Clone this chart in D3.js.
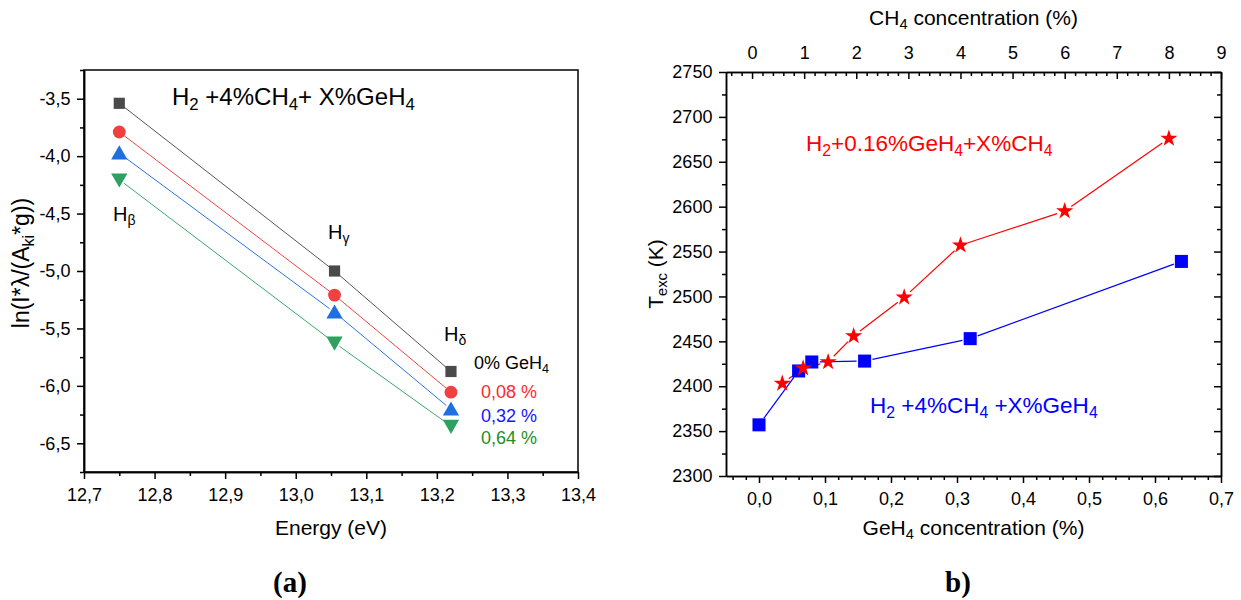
<!DOCTYPE html>
<html><head><meta charset="utf-8">
<script src="https://cdn.jsdelivr.net/npm/d3@7"></script>
<style>
body{margin:0;background:#fff;}
svg{display:block;font-family:Arial,"Liberation Sans",sans-serif;}
</style></head>
<body><svg id="chart" width="1241" height="600"></svg>
<script>
// ---------- DATA (panel a) ----------
const energy = [12.75, 13.055, 13.22];
const lnGe0   = [-3.54, -5.00, -5.875];
const lnGe008 = [-3.79, -5.21, -6.055];
const lnGe032 = [-3.975, -5.36, -6.205];
const lnGe064 = [-4.205, -5.625, -6.35];
const energyTicks = [12.7, 12.8, 12.9, 13.0, 13.1, 13.2, 13.3, 13.4];
const lnTicks = [-6.5, -6.0, -5.5, -5.0, -4.5, -4.0, -3.5];
const lineNames = ["H_{β}", "H_{γ}", "H_{δ}"];
const seriesLabels = ["0% GeH_{4}", "0,08 %", "0,32 %", "0,64 %"];

// ---------- DATA (panel b) ----------
const geh4Conc = [0, 0.06, 0.08, 0.16, 0.32, 0.64];
const texcGeH4 = [2357, 2417, 2427, 2428, 2453, 2539];
const ch4Conc  = [0.58, 0.98, 1.46, 1.95, 2.92, 4.0, 6.0, 8.0];
const texcCH4  = [2403, 2420, 2427, 2456, 2499, 2557, 2595, 2676];
const geh4Ticks = [0, 0.1, 0.2, 0.3, 0.4, 0.5, 0.6, 0.7];
const ch4Ticks = [0, 1, 2, 3, 4, 5, 6, 7, 8, 9];
const texcTicks = [2300, 2350, 2400, 2450, 2500, 2550, 2600, 2650, 2700, 2750];

const svg = d3.select("#chart");
const FONT = "Arial,'Liberation Sans',sans-serif";
const comma1 = d => d3.format(".1f")(d).replace(".", ",").replace("−", "-");

// rich text helper: "_{...}" subscript
function rich(sel, str) {
  const parts = str.split(/(_\{[^}]*\})/).filter(s => s.length);
  let reset = false;
  parts.forEach(p => {
    if (p.startsWith("_{")) {
      sel.append("tspan").attr("dy", "0.3em").attr("font-size", "0.7em").text(p.slice(2, -1));
      reset = true;
    } else {
      const t = sel.append("tspan").text(p);
      if (reset) { t.attr("dy", "-0.21em"); reset = false; }
    }
  });
  return sel;
}

function segs(g, pts, color, gap, width) {
  for (let i = 0; i < pts.length - 1; i++) {
    const [x0, y0] = pts[i], [x1, y1] = pts[i + 1];
    const dx = x1 - x0, dy = y1 - y0, L = Math.hypot(dx, dy);
    if (L <= 2 * gap) continue;
    const ux = dx / L, uy = dy / L;
    g.append("line").attr("x1", x0 + ux * gap).attr("y1", y0 + uy * gap)
      .attr("x2", x1 - ux * gap).attr("y2", y1 - uy * gap)
      .attr("stroke", color).attr("stroke-width", width || 1);
  }
}
const styleAxis = a => { a.select(".domain").attr("stroke-width", 1.5); a.selectAll("line").attr("stroke-width", 1.5); };
const fontAxis = a => a.selectAll("text").attr("font-size", 18).attr("fill", "#000").attr("font-family", FONT);

// ================= PANEL A =================
{
  const L = 84, R = 578, T = 70, B = 472;
  const x = d3.scaleLinear().domain([12.7, 13.4]).range([L, R]);
  const y = d3.scaleLinear().domain([-6.75, -3.25]).range([B, T]);
  const g = svg.append("g");

  g.append("rect").attr("x", L).attr("y", T).attr("width", R - L).attr("height", B - T)
    .attr("fill", "none").attr("stroke", "#000").attr("stroke-width", 1.5);

  const xa = g.append("g").attr("transform", `translate(0,${B})`)
    .call(d3.axisBottom(x).tickValues(energyTicks).tickFormat(comma1).tickSize(7).tickSizeOuter(0));
  const xm = g.append("g").attr("transform", `translate(0,${B})`)
    .call(d3.axisBottom(x).tickValues([12.75, 12.85, 12.95, 13.05, 13.15, 13.25, 13.35]).tickFormat("").tickSize(4).tickSizeOuter(0));
  const ya = g.append("g").attr("transform", `translate(${L},0)`)
    .call(d3.axisLeft(y).tickValues(lnTicks).tickFormat(comma1).tickSize(7).tickSizeOuter(0));
  const ym = g.append("g").attr("transform", `translate(${L},0)`)
    .call(d3.axisLeft(y).tickValues([-6.75, -6.25, -5.75, -5.25, -4.75, -4.25, -3.75, -3.25]).tickFormat("").tickSize(4).tickSizeOuter(0));
  [xa, xm, ya, ym].forEach(styleAxis);
  [xa, ya].forEach(fontAxis);
  xa.selectAll("text").attr("dy", "1.05em");
  ya.selectAll("text").attr("dx", "-0.2em");

  const series = [
    {v: lnGe0,   color: "#4a4a4a", line: "#555", sym: d3.symbolSquare, size: 125, rot: 0},
    {v: lnGe008, color: "#f04040", line: "#f04545", sym: d3.symbolCircle, size: 130, rot: 0},
    {v: lnGe032, color: "#1f6fe0", line: "#2a74e0", sym: d3.symbolTriangle, size: 115, rot: 0},
    {v: lnGe064, color: "#2ea060", line: "#3aa86a", sym: d3.symbolTriangle, size: 115, rot: 180},
  ];
  series.forEach(s => segs(g, energy.map((e, i) => [x(e), y(s.v[i])]), s.line, 6, 1));
  series.forEach(s => {
    g.selectAll(null).data(energy).join("path")
      .attr("d", d3.symbol().type(s.sym).size(s.size))
      .attr("transform", (e, i) => `translate(${x(e)},${y(s.v[i]) + (s.sym === d3.symbolTriangle ? (s.rot ? -1.5 : 1.5) : 0)}) rotate(${s.rot})`)
      .attr("fill", s.color);
  });

  rich(g.append("text").attr("x", 172).attr("y", 105).attr("font-size", 24).attr("fill", "#000"),
    "H_{2} +4%CH_{4}+ X%GeH_{4}");
  const nmPos = [[113, 221], [328, 239], [444, 341]];
  lineNames.forEach((n, i) => rich(g.append("text").attr("x", nmPos[i][0]).attr("y", nmPos[i][1]).attr("font-size", 20).attr("fill", "#000"), n));
  const lblPos = [[474, 369], [481, 398], [481, 422], [481, 444]];
  const lblCol = ["#000", "#ff2a2a", "#1515ff", "#1f8f1f"];
  seriesLabels.forEach((t, i) => rich(g.append("text").attr("x", lblPos[i][0]).attr("y", lblPos[i][1]).attr("font-size", 18).attr("fill", lblCol[i]), t));

  g.append("text").attr("x", (L + R) / 2).attr("y", 535).attr("text-anchor", "middle").attr("font-size", 21).text("Energy (eV)");
  rich(g.append("text").attr("transform", `translate(29,${(T + B) / 2 - 8}) rotate(-90)`).attr("text-anchor", "middle").attr("font-size", 23),
    "ln(I*λ/(A_{ki}*g))");
  g.append("text").attr("x", 290).attr("y", 592).attr("text-anchor", "middle")
    .attr("font-family", "'Liberation Serif','Times New Roman',serif").attr("font-weight", "bold").attr("font-size", 29).text("(a)");
}

// ================= PANEL B =================
{
  const L = 726, R = 1221, T = 72, B = 476;
  const x = d3.scaleLinear().domain([-0.05, 0.7]).range([L, R]);
  const x2 = d3.scaleLinear().domain([-0.5, 9]).range([L, R]);
  const y = d3.scaleLinear().domain([2300, 2750]).range([B, T]);
  const g = svg.append("g");

  const xb = g.append("g").attr("transform", `translate(0,${B})`)
    .call(d3.axisBottom(x).tickValues(geh4Ticks).tickFormat(comma1).tickSize(7).tickSizeOuter(0));
  const xbm = g.append("g").attr("transform", `translate(0,${B})`)
    .call(d3.axisBottom(x).tickValues(d3.range(-0.04, 0.7, 0.02).filter(v => Math.abs(v * 10 - Math.round(v * 10)) > 1e-6)).tickFormat("").tickSize(4).tickSizeOuter(0));
  const xt = g.append("g").attr("transform", `translate(0,${T})`)
    .call(d3.axisTop(x2).tickValues(ch4Ticks).tickFormat(d3.format("d")).tickSize(-7).tickSizeOuter(0));
  const xtm = g.append("g").attr("transform", `translate(0,${T})`)
    .call(d3.axisTop(x2).tickValues(d3.range(-0.4, 9, 0.2).filter(v => Math.abs(v - Math.round(v)) > 1e-6)).tickFormat("").tickSize(-4).tickSizeOuter(0));
  const yl = g.append("g").attr("transform", `translate(${L},0)`)
    .call(d3.axisLeft(y).tickValues(texcTicks).tickFormat(d3.format("d")).tickSize(7).tickSizeOuter(0));
  const ylm = g.append("g").attr("transform", `translate(${L},0)`)
    .call(d3.axisLeft(y).tickValues(d3.range(2325, 2750, 50)).tickFormat("").tickSize(4).tickSizeOuter(0));
  const yr = g.append("g").attr("transform", `translate(${R},0)`)
    .call(d3.axisRight(y).tickValues(texcTicks).tickFormat("").tickSize(-7).tickSizeOuter(0));
  const yrm = g.append("g").attr("transform", `translate(${R},0)`)
    .call(d3.axisRight(y).tickValues(d3.range(2325, 2750, 50)).tickFormat("").tickSize(-4).tickSizeOuter(0));
  [xb, xbm, xt, xtm, yl, ylm, yr, yrm].forEach(styleAxis);
  [xb, xt, yl].forEach(fontAxis);
  xb.selectAll("text").attr("dy", "1.05em");
  xt.selectAll("text").attr("dy", "-0.3em").attr("y", -8);
  yl.selectAll("text").attr("dx", "-0.2em");

  segs(g, geh4Conc.map((c, i) => [x(c), y(texcGeH4[i])]), "#0000ff", 8, 1.2);
  segs(g, ch4Conc.map((c, i) => [x2(c), y(texcCH4[i])]), "#ff0000", 8, 1.2);

  g.selectAll(null).data(geh4Conc).join("path")
    .attr("d", d3.symbol().type(d3.symbolSquare).size(170))
    .attr("transform", (c, i) => `translate(${x(c)},${y(texcGeH4[i])})`).attr("fill", "#0000ff");
  g.selectAll(null).data(ch4Conc).join("path")
    .attr("d", d3.symbol().type(d3.symbolStar).size(92))
    .attr("transform", (c, i) => `translate(${x2(c)},${y(texcCH4[i])})`).attr("fill", "#ff0000");

  rich(g.append("text").attr("x", 806).attr("y", 151).attr("font-size", 22.5).attr("fill", "#ff0000"), "H_{2}+0.16%GeH_{4}+X%CH_{4}");
  rich(g.append("text").attr("x", 870).attr("y", 413).attr("font-size", 22.5).attr("fill", "#0000ff"), "H_{2} +4%CH_{4} +X%GeH_{4}");

  rich(g.append("text").attr("x", (L + R) / 2).attr("y", 535).attr("text-anchor", "middle").attr("font-size", 21), "GeH_{4} concentration (%)");
  rich(g.append("text").attr("x", (L + R) / 2).attr("y", 25).attr("text-anchor", "middle").attr("font-size", 21), "CH_{4} concentration (%)");
  rich(g.append("text").attr("transform", `translate(663,${(T + B) / 2}) rotate(-90)`).attr("text-anchor", "middle").attr("font-size", 21), "T_{exc} (K)");
  g.append("text").attr("x", 958).attr("y", 592).attr("text-anchor", "middle")
    .attr("font-family", "'Liberation Serif','Times New Roman',serif").attr("font-weight", "bold").attr("font-size", 29).text("b)");
}
</script></body></html>
